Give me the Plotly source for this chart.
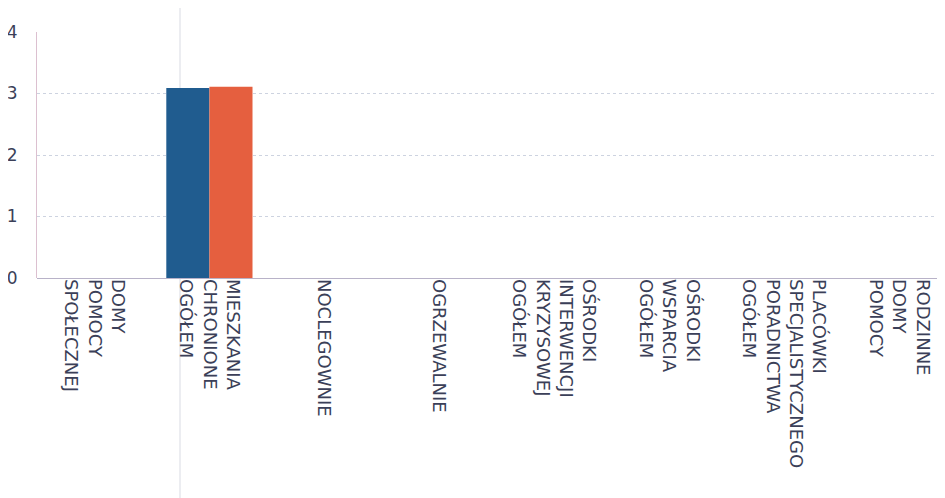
import plotly.graph_objects as go

# kategorie placówek (etykiety osi X)
kategorie = [
    "DOMY<br>POMOCY<br>SPOŁECZNEJ",
    "MIESZKANIA<br>CHRONIONE<br>OGÓŁEM",
    "NOCLEGOWNIE",
    "OGRZEWALNIE",
    "OŚRODKI<br>INTERWENCJI<br>KRYZYSOWEJ<br>OGÓŁEM",
    "OŚRODKI<br>WSPARCIA<br>OGÓŁEM",
    "PLACÓWKI<br>SPECJALISTYCZNEGO<br>PORADNICTWA<br>OGÓŁEM",
    "RODZINNE<br>DOMY<br>POMOCY",
]

seria_1 = [0, 3.09, 0, 0, 0, 0, 0, 0]
seria_2 = [0, 3.11, 0, 0, 0, 0, 0, 0]

y_ticks = [0, 1, 2, 3, 4]

tekst = "#3b3f58"

fig = go.Figure()
fig.add_trace(go.Bar(x=kategorie, y=seria_1, marker=dict(color="#205c8f", line=dict(width=0))))
fig.add_trace(go.Bar(x=kategorie, y=seria_2, marker=dict(color="#e55f3f", line=dict(width=0))))

# strona ma 8px marginesu body, stąd 937x490
fig.update_layout(
    width=937, height=490,
    margin=dict(l=29, r=0, t=24, b=220),
    paper_bgcolor="white", plot_bgcolor="white",
    barmode="group", bargap=0.25, bargroupgap=0,
    showlegend=False,
    font=dict(family="DejaVu Sans", color=tekst),
)
fig.update_xaxes(
    range=[-0.5, 7.4], tickangle=90, showgrid=False,
    tickfont=dict(size=18, color=tekst), ticks="", ticklen=0,
    showline=False, automargin=False,
)
fig.update_yaxes(
    range=[0, 4], tickvals=y_ticks, tickfont=dict(size=17, color=tekst),
    showgrid=True, gridcolor="#cdd3e0", griddash="dot", gridwidth=1,
    zeroline=True, zerolinecolor="#b8b2c8", zerolinewidth=1,
    showline=True, linecolor="#dcc0d0", linewidth=1,
    ticks="", ticklabelstandoff=15, automargin=False,
)
# delikatna pionowa linia widoczna na skanie
fig.add_shape(type="line", xref="paper", yref="paper", x0=0.1575, x1=0.1575, y0=-0.9, y1=1.2,
              line=dict(color="#d9dbe3", width=1), layer="below")

fig.write_html("out.html")
